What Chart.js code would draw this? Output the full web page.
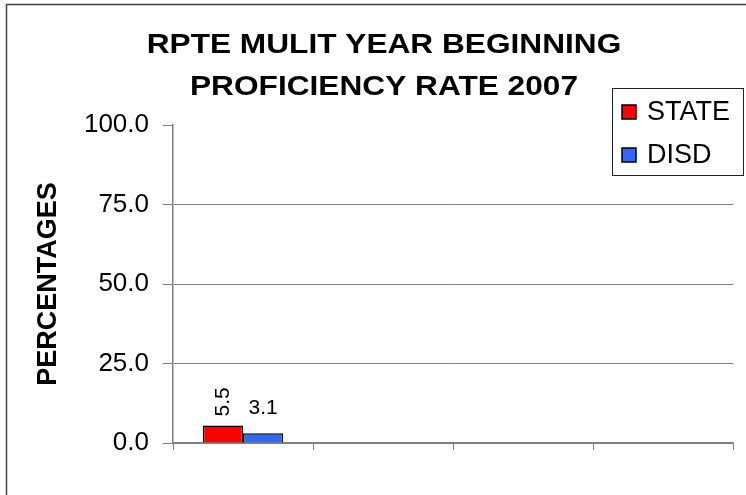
<!DOCTYPE html>
<html>
<head>
<meta charset="utf-8">
<script src="https://cdn.jsdelivr.net/npm/chart.js@4.4.1/dist/chart.umd.min.js"></script>
<style>
  html, body { margin: 0; padding: 0; background: #fff; }
  #wrap { width: 746px; height: 495px; position: relative; }
</style>
</head>
<body>
<div id="wrap"><canvas id="chart" width="746" height="495"></canvas></div>
<script>
// chart data
const titleLines = ['RPTE MULIT YEAR BEGINNING', 'PROFICIENCY RATE 2007'];
const categories = ['', '', '', ''];
const stateValues = [5.5, null, null, null];
const disdValues = [3.1, null, null, null];
const seriesNames = ['STATE', 'DISD'];
const yTicks = [0, 25, 50, 75, 100];

const FONT = '"Liberation Sans", Arial, sans-serif';

// frame, title and legend drawn on the canvas
const decorations = {
    id: 'decorations',
    beforeDraw(chart) {
        const ctx = chart.ctx;
        ctx.save();
        ctx.fillStyle = '#fff';
        ctx.fillRect(0, 0, chart.width, chart.height);
        ctx.strokeStyle = '#404040';
        ctx.lineWidth = 1.5;
        ctx.beginPath();
        ctx.moveTo(6.5, chart.height);
        ctx.lineTo(6.5, 4.5);
        ctx.lineTo(chart.width, 4.5);
        ctx.stroke();
        ctx.restore();
    },
    afterDraw(chart) {
        const ctx = chart.ctx;
        ctx.save();
        // title, a little stretched like the original
        ctx.fillStyle = '#000';
        ctx.font = 'bold 28px ' + FONT;
        ctx.textAlign = 'center';
        ctx.textBaseline = 'alphabetic';
        const baselines = [53, 95];
        titleLines.forEach((line, i) => {
            ctx.save();
            ctx.translate(384, baselines[i]);
            ctx.scale(1.13, 1);
            ctx.fillText(line, 0, 0);
            ctx.restore();
        });

        // legend box
        ctx.fillStyle = '#fff';
        ctx.fillRect(612, 88, 132, 88);
        ctx.strokeStyle = '#222';
        ctx.lineWidth = 1;
        ctx.strokeRect(612.5, 88.5, 131, 87);
        const rows = [112, 155];
        chart.data.datasets.forEach((ds, i) => {
            const cy = rows[i];
            ctx.fillStyle = ds.backgroundColor;
            ctx.fillRect(622, cy - 7, 14, 14);
            ctx.strokeStyle = '#000';
            ctx.lineWidth = 1.5;
            ctx.strokeRect(622, cy - 7, 14, 14);
            ctx.fillStyle = '#000';
            ctx.font = '27px ' + FONT;
            ctx.textAlign = 'left';
            ctx.textBaseline = 'middle';
            ctx.fillText(ds.label, 647, cy + 1);
        });
        ctx.restore();
    },
    afterDatasetsDraw(chart) {
        // value labels above bars: first series rotated, second flat
        const ctx = chart.ctx;
        ctx.save();
        ctx.fillStyle = '#000';
        ctx.font = '21px ' + FONT;
        chart.data.datasets.forEach((ds, i) => {
            const meta = chart.getDatasetMeta(i);
            meta.data.forEach((bar, j) => {
                const v = ds.data[j];
                if (v === null || v === undefined) return;
                const txt = v.toFixed(1);
                if (i === 0) {
                    ctx.save();
                    ctx.translate(bar.x, bar.y - 9);
                    ctx.rotate(-Math.PI / 2);
                    ctx.textAlign = 'left';
                    ctx.textBaseline = 'middle';
                    ctx.fillText(txt, 0, 0);
                    ctx.restore();
                } else {
                    ctx.textAlign = 'center';
                    ctx.textBaseline = 'alphabetic';
                    ctx.fillText(txt, bar.x, bar.y - 19);
                }
            });
        });
        ctx.restore();
    }
};

const ctx = document.getElementById('chart').getContext('2d');
const myChart = new Chart(ctx, {
    type: 'bar',
    data: {
        labels: categories,
        datasets: [{
            label: seriesNames[0],
            data: stateValues,
            backgroundColor: '#FF0000',
            borderColor: '#000000',
            borderWidth: 1.5
        }, {
            label: seriesNames[1],
            data: disdValues,
            backgroundColor: '#3366FF',
            borderColor: '#000000',
            borderWidth: 1.5
        }]
    },
    options: {
        responsive: false,
        animation: false,
        datasets: {
            bar: { categoryPercentage: 0.575, barPercentage: 1 }
        },
        layout: { padding: { top: 125, right: 13, bottom: 0, left: 0 } },
        plugins: {
            legend: { display: false },
            title: { display: false },
            tooltip: { enabled: false }
        },
        scales: {
            x: {
                afterFit(scale) { scale.height = 52; },
                ticks: { display: false },
                grid: {
                    drawOnChartArea: false,
                    drawTicks: true,
                    tickLength: 7,
                    color: '#808080',
                    offset: true
                },
                border: { color: '#808080', width: 1.5 }
            },
            y: {
                min: 0,
                max: 100,
                afterFit(scale) { scale.width = 173; },
                afterBuildTicks(scale) { scale.ticks = yTicks.map(v => ({ value: v })); },
                ticks: {
                    color: '#000',
                    padding: 14,
                    font: { family: FONT, size: 26 },
                    callback: v => Number(v).toFixed(1)
                },
                grid: {
                    color: c => (c.tick && c.tick.value === 100) ? 'rgba(0,0,0,0)' : '#808080',
                    tickColor: '#808080',
                    tickLength: 10,
                    lineWidth: 1
                },
                border: { color: '#808080', width: 1.5 },
                title: {
                    display: true,
                    text: 'PERCENTAGES',
                    color: '#000',
                    padding: { top: 32, bottom: 0 },
                    font: { family: FONT, size: 27, weight: 'bold' }
                }
            }
        }
    },
    plugins: [decorations]
});
</script>
</body>
</html>
